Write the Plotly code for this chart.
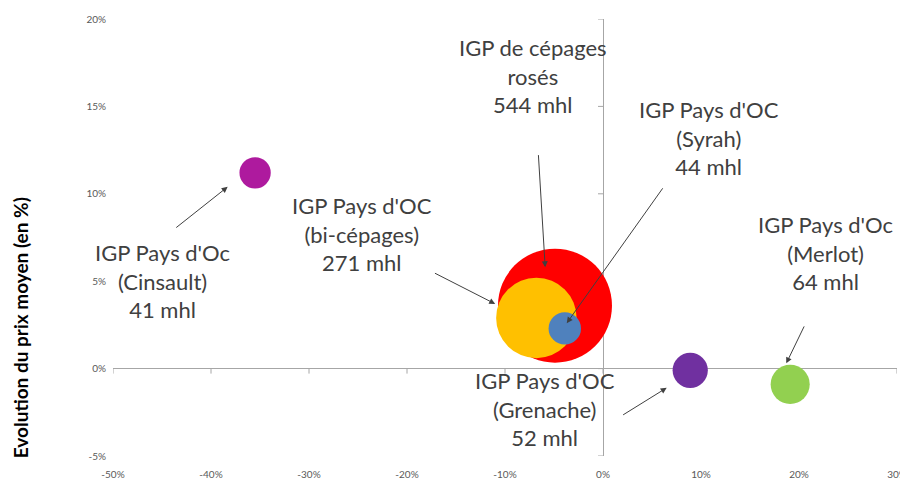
import plotly.graph_objects as go

# ---- data ----
categories = ["IGP de cépages rosés", "IGP Pays d'OC (bi-cépages)", "IGP Pays d'OC (Syrah)",
              "IGP Pays d'Oc (Cinsault)", "IGP Pays d'OC (Grenache)", "IGP Pays d'Oc (Merlot)"]
volume_mhl = [544, 271, 44, 41, 52, 64]
evol_volume = [-4.9, -6.8, -3.9, -35.5, 8.9, 19.1]      # x, %
evol_prix = [3.6, 2.9, 2.3, 11.2, -0.1, -0.9]           # y, %
colors = ["#FF0000", "#FFC000", "#4F81BD", "#AE1A9E", "#7030A0", "#92D050"]

label_lines = [
    "IGP de cépages<br>rosés<br>544 mhl",
    "IGP Pays d'OC<br>(bi-cépages)<br>271 mhl",
    "IGP Pays d'OC<br>(Syrah)<br>44 mhl",
    "IGP Pays d'Oc<br>(Cinsault)<br>41 mhl",
    "IGP Pays d'OC<br>(Grenache)<br>52 mhl",
    "IGP Pays d'Oc<br>(Merlot)<br>64 mhl",
]

x_ticks = [-50, -40, -30, -20, -10, 0, 10, 20, 30]
x_tick_text = ["-50%", "-40%", "-30%", "-20%", "-10%", "0%", "10%", "20%", "30%"]
y_ticks = [-5, 0, 5, 10, 15, 20]
y_tick_text = ["-5%", "0%", "5%", "10%", "15%", "20%"]

# ---- label / arrow layout (data coordinates) ----
label_pos = [(-7.1, 16.75), (-24.6, 7.7), (10.8, 13.2), (-44.9, 5.0), (-5.9, -2.3), (22.7, 6.6)]
arrow_tail = [(-6.6, 12.3), (-17.3, 5.5), (6.2, 10.4), (-43.7, 8.0), (1.9, -2.7), (20.6, 2.5)]
arrow_head = [(-5.9, 5.8), (-11.0, 3.7), (-3.7, 2.6), (-38.3, 10.4), (6.5, -1.1), (18.7, 0.3)]

max_diam = 114

fig = go.Figure()
fig.add_trace(go.Scatter(
    x=evol_volume, y=evol_prix, mode="markers",
    text=categories,
    marker=dict(size=volume_mhl, sizemode="area",
                sizeref=2.0 * max(volume_mhl) / max_diam ** 2,
                color=colors, opacity=1, line=dict(width=0)),
    hovertemplate="%{text}<br>x=%{x}%<br>y=%{y}%<extra></extra>",
    showlegend=False,
))

text_font = dict(family="Lato, Carlito, sans-serif", size=22, color="#404040")
annotations = []
for (lx, ly), txt in zip(label_pos, label_lines):
    annotations.append(dict(x=lx, y=ly, xref="x", yref="y", text=txt, showarrow=False,
                            font=text_font, align="center", xanchor="center", yanchor="middle"))
for (tx, ty), (hx, hy) in zip(arrow_tail, arrow_head):
    annotations.append(dict(x=hx, y=hy, ax=tx, ay=ty, xref="x", yref="y", axref="x", ayref="y",
                            text="", showarrow=True, arrowhead=2, arrowsize=1.2,
                            arrowwidth=1, arrowcolor="#404040", standoff=0, startstandoff=0))
annotations.append(dict(
    x=-0.117, y=0.293, xref="paper", yref="paper", text="<b>Evolution du prix moyen (en %)</b>",
    textangle=-90, showarrow=False, xanchor="center", yanchor="middle",
    font=dict(family="Lato, sans-serif", size=19, color="#000000"),
))

shapes = []
for xv in x_ticks:
    shapes.append(dict(type="line", xref="x", yref="y", ysizemode="pixel", yanchor=0,
                       x0=xv, x1=xv, y0=0, y1=-5, line=dict(color="#A6A6A6", width=1), layer="below"))
for yv in y_ticks:
    shapes.append(dict(type="line", xref="x", yref="y", xsizemode="pixel", xanchor=0,
                       x0=-5, x1=0, y0=yv, y1=yv, line=dict(color="#A6A6A6", width=1), layer="below"))

tick_font = dict(family="Lato, sans-serif", size=10, color="#595959")
# the page body has an 8px margin, so margins are offset by 8px
fig.update_layout(
    width=908, height=479,
    margin=dict(l=105, r=19, t=11, b=31, autoexpand=False),
    paper_bgcolor="white", plot_bgcolor="white",
    xaxis=dict(range=[-50, 30], tickvals=x_ticks, ticktext=x_tick_text, showgrid=False,
               zeroline=True, zerolinecolor="#A6A6A6", zerolinewidth=1, showline=False,
               ticks="", tickfont=tick_font, ticklabelstandoff=11, fixedrange=True,
               automargin=False, ticklabeloverflow="allow"),
    yaxis=dict(range=[-5, 20], tickvals=y_ticks, ticktext=y_tick_text, showgrid=False,
               zeroline=True, zerolinecolor="#A6A6A6", zerolinewidth=1, showline=False,
               ticks="", tickfont=tick_font, ticklabelstandoff=6, fixedrange=True,
               automargin=False, ticklabeloverflow="allow"),
    annotations=annotations,
    shapes=shapes,
)

fig.write_html("out.html")
